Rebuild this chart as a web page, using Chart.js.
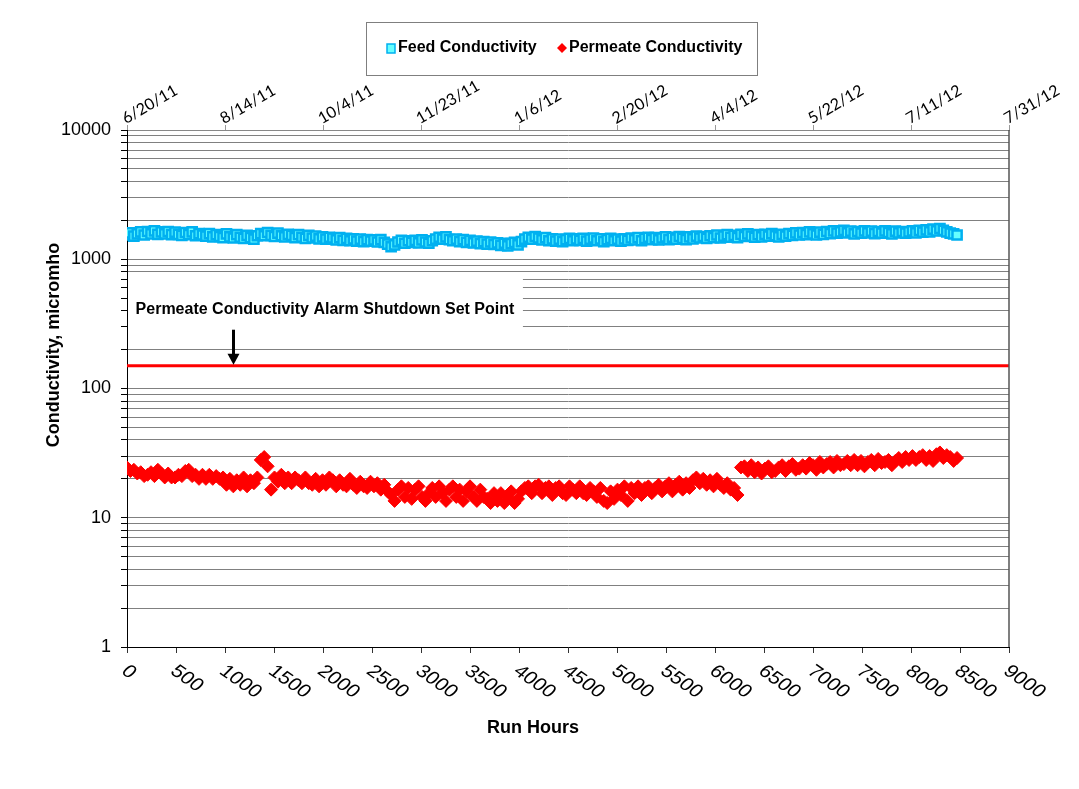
<!DOCTYPE html>
<html>
<head>
<meta charset="utf-8">
<title>Feed and Permeate Conductivity</title>
<script src="https://cdn.jsdelivr.net/npm/chart.js@4.4.0/dist/chart.umd.min.js"></script>
<style>
  html, body { margin: 0; padding: 0; background: #fff; }
  #wrap { width: 1079px; height: 789px; }
</style>
</head>
<body>
<div id="wrap"><canvas id="cond-chart" width="1079" height="789"></canvas></div>
<script>
// Run hours of each log reading
const runHours = [
  0, 35, 70, 105, 140, 175, 210, 245, 280, 315, 350, 385,
  420, 455, 490, 525, 560, 595, 630, 665, 700, 735, 770, 805,
  840, 875, 910, 945, 980, 1015, 1050, 1085, 1120, 1155, 1190, 1225,
  1260, 1295, 1330, 1365, 1400, 1435, 1470, 1505, 1540, 1575, 1610, 1645,
  1680, 1715, 1750, 1785, 1820, 1855, 1890, 1925, 1960, 1995, 2030, 2065,
  2100, 2135, 2170, 2205, 2240, 2275, 2310, 2345, 2380, 2415, 2450, 2485,
  2520, 2555, 2590, 2625, 2660, 2695, 2730, 2765, 2800, 2835, 2870, 2905,
  2940, 2975, 3010, 3045, 3080, 3115, 3150, 3185, 3220, 3255, 3290, 3325,
  3360, 3395, 3430, 3465, 3500, 3535, 3570, 3605, 3640, 3675, 3710, 3745,
  3780, 3815, 3850, 3885, 3920, 3955, 3990, 4025, 4060, 4095, 4130, 4165,
  4200, 4235, 4270, 4305, 4340, 4375, 4410, 4445, 4480, 4515, 4550, 4585,
  4620, 4655, 4690, 4725, 4760, 4795, 4830, 4865, 4900, 4935, 4970, 5005,
  5040, 5075, 5110, 5145, 5180, 5215, 5250, 5285, 5320, 5355, 5390, 5425,
  5460, 5495, 5530, 5565, 5600, 5635, 5670, 5705, 5740, 5775, 5810, 5845,
  5880, 5915, 5950, 5985, 6020, 6055, 6090, 6125, 6160, 6195, 6230, 6265,
  6300, 6335, 6370, 6405, 6440, 6475, 6510, 6545, 6580, 6615, 6650, 6685,
  6720, 6755, 6790, 6825, 6860, 6895, 6930, 6965, 7000, 7035, 7070, 7105,
  7140, 7175, 7210, 7245, 7280, 7315, 7350, 7385, 7420, 7455, 7490, 7525,
  7560, 7595, 7630, 7665, 7700, 7735, 7770, 7805, 7840, 7875, 7910, 7945,
  7980, 8015, 8050, 8085, 8120, 8155, 8190, 8225, 8260, 8295, 8330, 8365,
  8400, 8435, 8470
];

// Feed conductivity, micromho
const feedCond = [
  1540, 1600, 1510, 1570, 1630, 1540, 1640, 1570, 1660, 1560, 1630, 1570,
  1640, 1550, 1620, 1560, 1530, 1610, 1550, 1630, 1520, 1580, 1540, 1510,
  1580, 1490, 1550, 1500, 1470, 1570, 1490, 1460, 1550, 1480, 1450, 1530,
  1470, 1430, 1520, 1580, 1520, 1610, 1530, 1500, 1590, 1520, 1490, 1560,
  1530, 1470, 1550, 1480, 1450, 1530, 1460, 1510, 1440, 1490, 1430, 1480,
  1460, 1410, 1470, 1400, 1450, 1390, 1440, 1380, 1430, 1370, 1420, 1380,
  1410, 1360, 1420, 1350, 1310, 1250, 1290, 1360, 1400, 1330, 1390, 1350,
  1400, 1340, 1410, 1360, 1330, 1390, 1430, 1480, 1430, 1490, 1420, 1390,
  1430, 1370, 1420, 1350, 1400, 1340, 1380, 1320, 1370, 1310, 1360, 1300,
  1340, 1280, 1330, 1270, 1320, 1350, 1290, 1370, 1430, 1480, 1430, 1500,
  1460, 1410, 1470, 1390, 1440, 1380, 1430, 1370, 1420, 1450, 1390, 1440,
  1400, 1450, 1380, 1430, 1460, 1390, 1440, 1370, 1420, 1450, 1390, 1430,
  1380, 1440, 1400, 1460, 1410, 1470, 1390, 1450, 1480, 1420, 1470, 1410,
  1460, 1490, 1420, 1480, 1430, 1500, 1450, 1420, 1490, 1440, 1510, 1460,
  1500, 1450, 1520, 1470, 1540, 1460, 1510, 1550, 1480, 1530, 1470, 1560,
  1500, 1570, 1510, 1480, 1550, 1490, 1560, 1510, 1580, 1520, 1490, 1560,
  1510, 1580, 1530, 1600, 1540, 1610, 1550, 1630, 1570, 1540, 1620, 1560,
  1640, 1580, 1660, 1590, 1630, 1670, 1600, 1650, 1570, 1640, 1590, 1660,
  1600, 1650, 1580, 1640, 1590, 1660, 1610, 1570, 1650, 1600, 1640, 1590,
  1630, 1660, 1600, 1670, 1620, 1690, 1630, 1710, 1660, 1730, 1670, 1630,
  1590, 1570, 1540
];

// Permeate conductivity, micromho
const permCond = [
  24.5, 23, 23.5, 22, 22.5, 21, 21.5, 22.5, 21, 23.5, 22, 20.5,
  22, 20.5, 20.5, 21.5, 21, 23, 23.5, 21, 21.5, 20, 21.5, 20,
  21.5, 20, 21, 20, 20.5, 18, 20, 17.5, 19.5, 18, 20.5, 17.5,
  19.5, 18.5, 20.5, 28, 29.5, 25, 16.5, 20.5, 19, 21.5, 18.5, 20.5,
  18.5, 20.5, 19.5, 18.5, 20.5, 18.5, 18, 20, 17.5, 19.5, 18, 20.5,
  19.5, 17.5, 19.5, 18, 17.5, 20, 18, 17, 19, 17.5, 17, 19,
  17.5, 18.5, 16.5, 18, 16, 15, 13.5, 16.5, 17.5, 14.5, 17, 14,
  16.5, 17.5, 14.5, 13.5, 15.5, 17, 14.5, 17.5, 15.5, 13.5, 16.5, 17.5,
  14.5, 16.5, 13.5, 16, 17.5, 14.5, 13.5, 16.5, 14.5, 14, 13, 15.5,
  13.5, 15.5, 13, 14.5, 16, 13, 14, 16, 17, 17.5, 15.5, 17.5,
  18, 15.5, 17, 17.5, 15, 17, 17.5, 15.5, 15, 17.5, 16.5, 15.5,
  17.5, 15.5, 15, 17, 16, 14.5, 17, 13.5, 13, 16, 14, 16.5,
  15, 17.5, 13.5, 17, 15.5, 17.5, 15, 17, 17.5, 15.5, 17, 18,
  16, 17.5, 18.5, 16, 18, 19, 16.5, 18.5, 17, 19.5, 20.5, 18.5,
  20, 18, 19.5, 17.5, 20, 18, 17, 18.5, 16.5, 17, 15, 24.5,
  25, 23, 25.5, 22.5, 24.5, 22, 24, 25, 22.5, 23, 24.5, 25.5,
  23, 25, 26, 23.5, 24, 25.5, 24, 26.5, 25.5, 23.5, 27, 24.5,
  26, 27, 24.5, 27.5, 25.5, 26, 27.5, 25.5, 28, 25.5, 27.5, 25,
  27, 28, 25.5, 28.5, 26.5, 27, 28, 25.5, 27.5, 29, 27, 29.5,
  28, 30, 28, 29.5, 30.5, 28, 30, 27.5, 31, 32, 29, 30.5,
  29.5, 27.5, 29
];

// Alarm shutdown set point, micromho
const setPoint = 150;

// Axis ticks
const xTicks = [0, 500, 1000, 1500, 2000, 2500, 3000, 3500, 4000, 4500,
  5000, 5500, 6000, 6500, 7000, 7500, 8000, 8500, 9000];
const dateTickHours = [0, 1000, 2000, 3000, 4000, 5000, 6000, 7000, 8000, 9000];
const dateLabels = ['6/20/11', '8/14/11', '10/4/11', '11/23/11', '1/6/12',
  '2/20/12', '4/4/12', '5/22/12', '7/11/12', '7/31/12'];
const yLabels = [1, 10, 100, 1000, 10000];

// grid lines at every 1-9 step of each decade
const yGrid = [];
for (let d = 0; d < 4; d++) {
  for (let m = 1; m < 10; m++) yGrid.push(m * Math.pow(10, d));
}
yGrid.push(10000);

const FEED_LINE = '#00b0f0';
const FEED_FILL = '#66ffff';
const PERM_RED = '#ff0000';
const SANS = '"Liberation Sans", Arial, sans-serif';

function toPoints(xs, ys) {
  return xs.map(function(x, i) { return { x: x, y: ys[i] }; });
}

// White note box, set point label and arrow
const notePlugin = {
  id: 'note',
  beforeDatasetsDraw(chart) {
    const ctx = chart.ctx;
    const xs = chart.scales.x, ys = chart.scales.y;
    ctx.save();
    ctx.fillStyle = '#fff';
    const top = ys.getPixelForValue(740);
    const bottom = ys.getPixelForValue(270);
    ctx.fillRect(chart.chartArea.left + 1, top, xs.getPixelForValue(4040) - chart.chartArea.left - 1, bottom - top);
    ctx.restore();
  },
  afterDatasetsDraw(chart) {
    const ctx = chart.ctx;
    const xs = chart.scales.x, ys = chart.scales.y;
    ctx.save();
    ctx.fillStyle = '#000';
    ctx.font = 'bold 16px ' + SANS;
    ctx.textAlign = 'center';
    ctx.textBaseline = 'middle';
    ctx.fillText('Permeate Conductivity Alarm Shutdown Set Point', xs.getPixelForValue(2020), ys.getPixelForValue(405));

    // arrow down to the set point line
    const ax = Math.round(xs.getPixelForValue(1080)) + 0.5;
    const y0 = ys.getPixelForValue(285);
    const y1 = ys.getPixelForValue(setPoint) - 1;
    ctx.strokeStyle = '#000';
    ctx.lineWidth = 3;
    ctx.beginPath();
    ctx.moveTo(ax, y0);
    ctx.lineTo(ax, y1 - 8);
    ctx.stroke();
    ctx.beginPath();
    ctx.moveTo(ax - 6, y1 - 11);
    ctx.lineTo(ax + 6, y1 - 11);
    ctx.lineTo(ax, y1);
    ctx.closePath();
    ctx.fill();
    ctx.restore();
  },
  afterDraw(chart) {
    const ctx = chart.ctx;
    const xs = chart.scales.x;
    const area = chart.chartArea;
    ctx.save();

    // right frame line
    ctx.strokeStyle = '#555';
    ctx.lineWidth = 1.5;
    ctx.beginPath();
    ctx.moveTo(area.right, area.top);
    ctx.lineTo(area.right, area.bottom);
    ctx.stroke();

    // slanted run hour labels
    ctx.fillStyle = '#000';
    ctx.font = '18px ' + SANS;
    ctx.textAlign = 'left';
    ctx.textBaseline = 'middle';
    xTicks.forEach(function(v) {
      const px = xs.getPixelForValue(v);
      ctx.save();
      ctx.translate(px - 3, xs.top + 22);
      ctx.scale(1.2, 1);
      ctx.rotate(40 * Math.PI / 180);
      ctx.fillText(String(v), 0, 0);
      ctx.restore();
    });

    // axis titles
    ctx.font = 'bold 18px ' + SANS;
    ctx.textAlign = 'center';
    ctx.fillText('Run Hours', 533, 728);
    ctx.save();
    ctx.translate(54, 345);
    ctx.rotate(-Math.PI / 2);
    ctx.fillText('Conductivity, micromho', 0, 0);
    ctx.restore();

    // legend box
    ctx.fillStyle = '#fff';
    ctx.fillRect(366, 22, 391, 53);
    ctx.strokeStyle = '#7f7f7f';
    ctx.lineWidth = 1;
    ctx.strokeRect(366.5, 22.5, 391, 53);

    const ds = chart.data.datasets;
    ctx.fillStyle = ds[0].backgroundColor;
    ctx.strokeStyle = ds[0].borderColor;
    ctx.lineWidth = 1.5;
    ctx.fillRect(387, 44, 8, 9);
    ctx.strokeRect(387, 44, 8, 9);

    ctx.fillStyle = ds[1].backgroundColor;
    ctx.beginPath();
    ctx.moveTo(562, 43);
    ctx.lineTo(567, 48);
    ctx.lineTo(562, 53);
    ctx.lineTo(557, 48);
    ctx.closePath();
    ctx.fill();

    ctx.fillStyle = '#000';
    ctx.font = 'bold 16px ' + SANS;
    ctx.textAlign = 'left';
    ctx.fillText(ds[0].label, 398, 48);
    ctx.fillText(ds[1].label, 569, 48);
    ctx.restore();
  }
};

new Chart(document.getElementById('cond-chart'), {
  type: 'scatter',
  data: {
    datasets: [
      {
        label: 'Feed Conductivity',
        data: toPoints(runHours, feedCond),
        pointStyle: 'rect',
        pointRadius: 6.5,
        borderWidth: 2.5,
        borderColor: FEED_LINE,
        backgroundColor: FEED_FILL
      },
      {
        label: 'Permeate Conductivity',
        data: toPoints(runHours, permCond),
        pointStyle: 'rectRot',
        pointRadius: 6.5,
        borderWidth: 1,
        borderColor: PERM_RED,
        backgroundColor: PERM_RED
      },
      {
        label: 'Set Point',
        type: 'line',
        data: [{ x: 0, y: setPoint }, { x: 9000, y: setPoint }],
        borderColor: PERM_RED,
        borderWidth: 3,
        pointRadius: 0,
        showLine: true
      }
    ]
  },
  options: {
    responsive: false,
    animation: false,
    layout: { padding: { left: 0, right: 70, top: 0, bottom: 0 } },
    plugins: {
      legend: { display: false },
      tooltip: { enabled: false }
    },
    scales: {
      x: {
        type: 'linear',
        position: 'bottom',
        min: 0,
        max: 9000,
        afterBuildTicks: function(scale) {
          scale.ticks = xTicks.map(function(v) { return { value: v }; });
        },
        ticks: { display: false },
        grid: { drawOnChartArea: false, tickLength: 6, color: '#333' },
        border: { color: '#000' },
        afterFit: function(scale) { scale.height = 142; }
      },
      xTop: {
        type: 'linear',
        position: 'top',
        min: 0,
        max: 9000,
        afterBuildTicks: function(scale) {
          scale.ticks = dateTickHours.map(function(v) { return { value: v }; });
        },
        ticks: {
          autoSkip: false,
          minRotation: 30,
          maxRotation: 30,
          padding: -3,
          labelOffset: 6,
          color: '#000',
          font: { family: 'Lato', size: 16 },
          callback: function(v, i) { return dateLabels[i]; }
        },
        grid: { drawOnChartArea: false, tickLength: 5, color: '#999' },
        border: { color: '#888' },
        afterFit: function(scale) { scale.height = 130; }
      },
      y: {
        type: 'logarithmic',
        min: 1,
        max: 10000,
        afterBuildTicks: function(scale) {
          scale.ticks = yGrid.map(function(v) { return { value: v, major: yLabels.indexOf(v) >= 0 }; });
        },
        ticks: {
          autoSkip: false,
          padding: 10,
          color: '#000',
          font: { family: 'Liberation Sans', size: 18 },
          callback: function(v) { return yLabels.indexOf(v) >= 0 ? String(v) : ''; }
        },
        grid: { color: '#808080', tickColor: '#000', tickLength: 6 },
        border: { color: '#000' },
        afterFit: function(scale) { scale.width = 127; }
      }
    }
  },
  plugins: [notePlugin]
});
</script>
</body>
</html>
